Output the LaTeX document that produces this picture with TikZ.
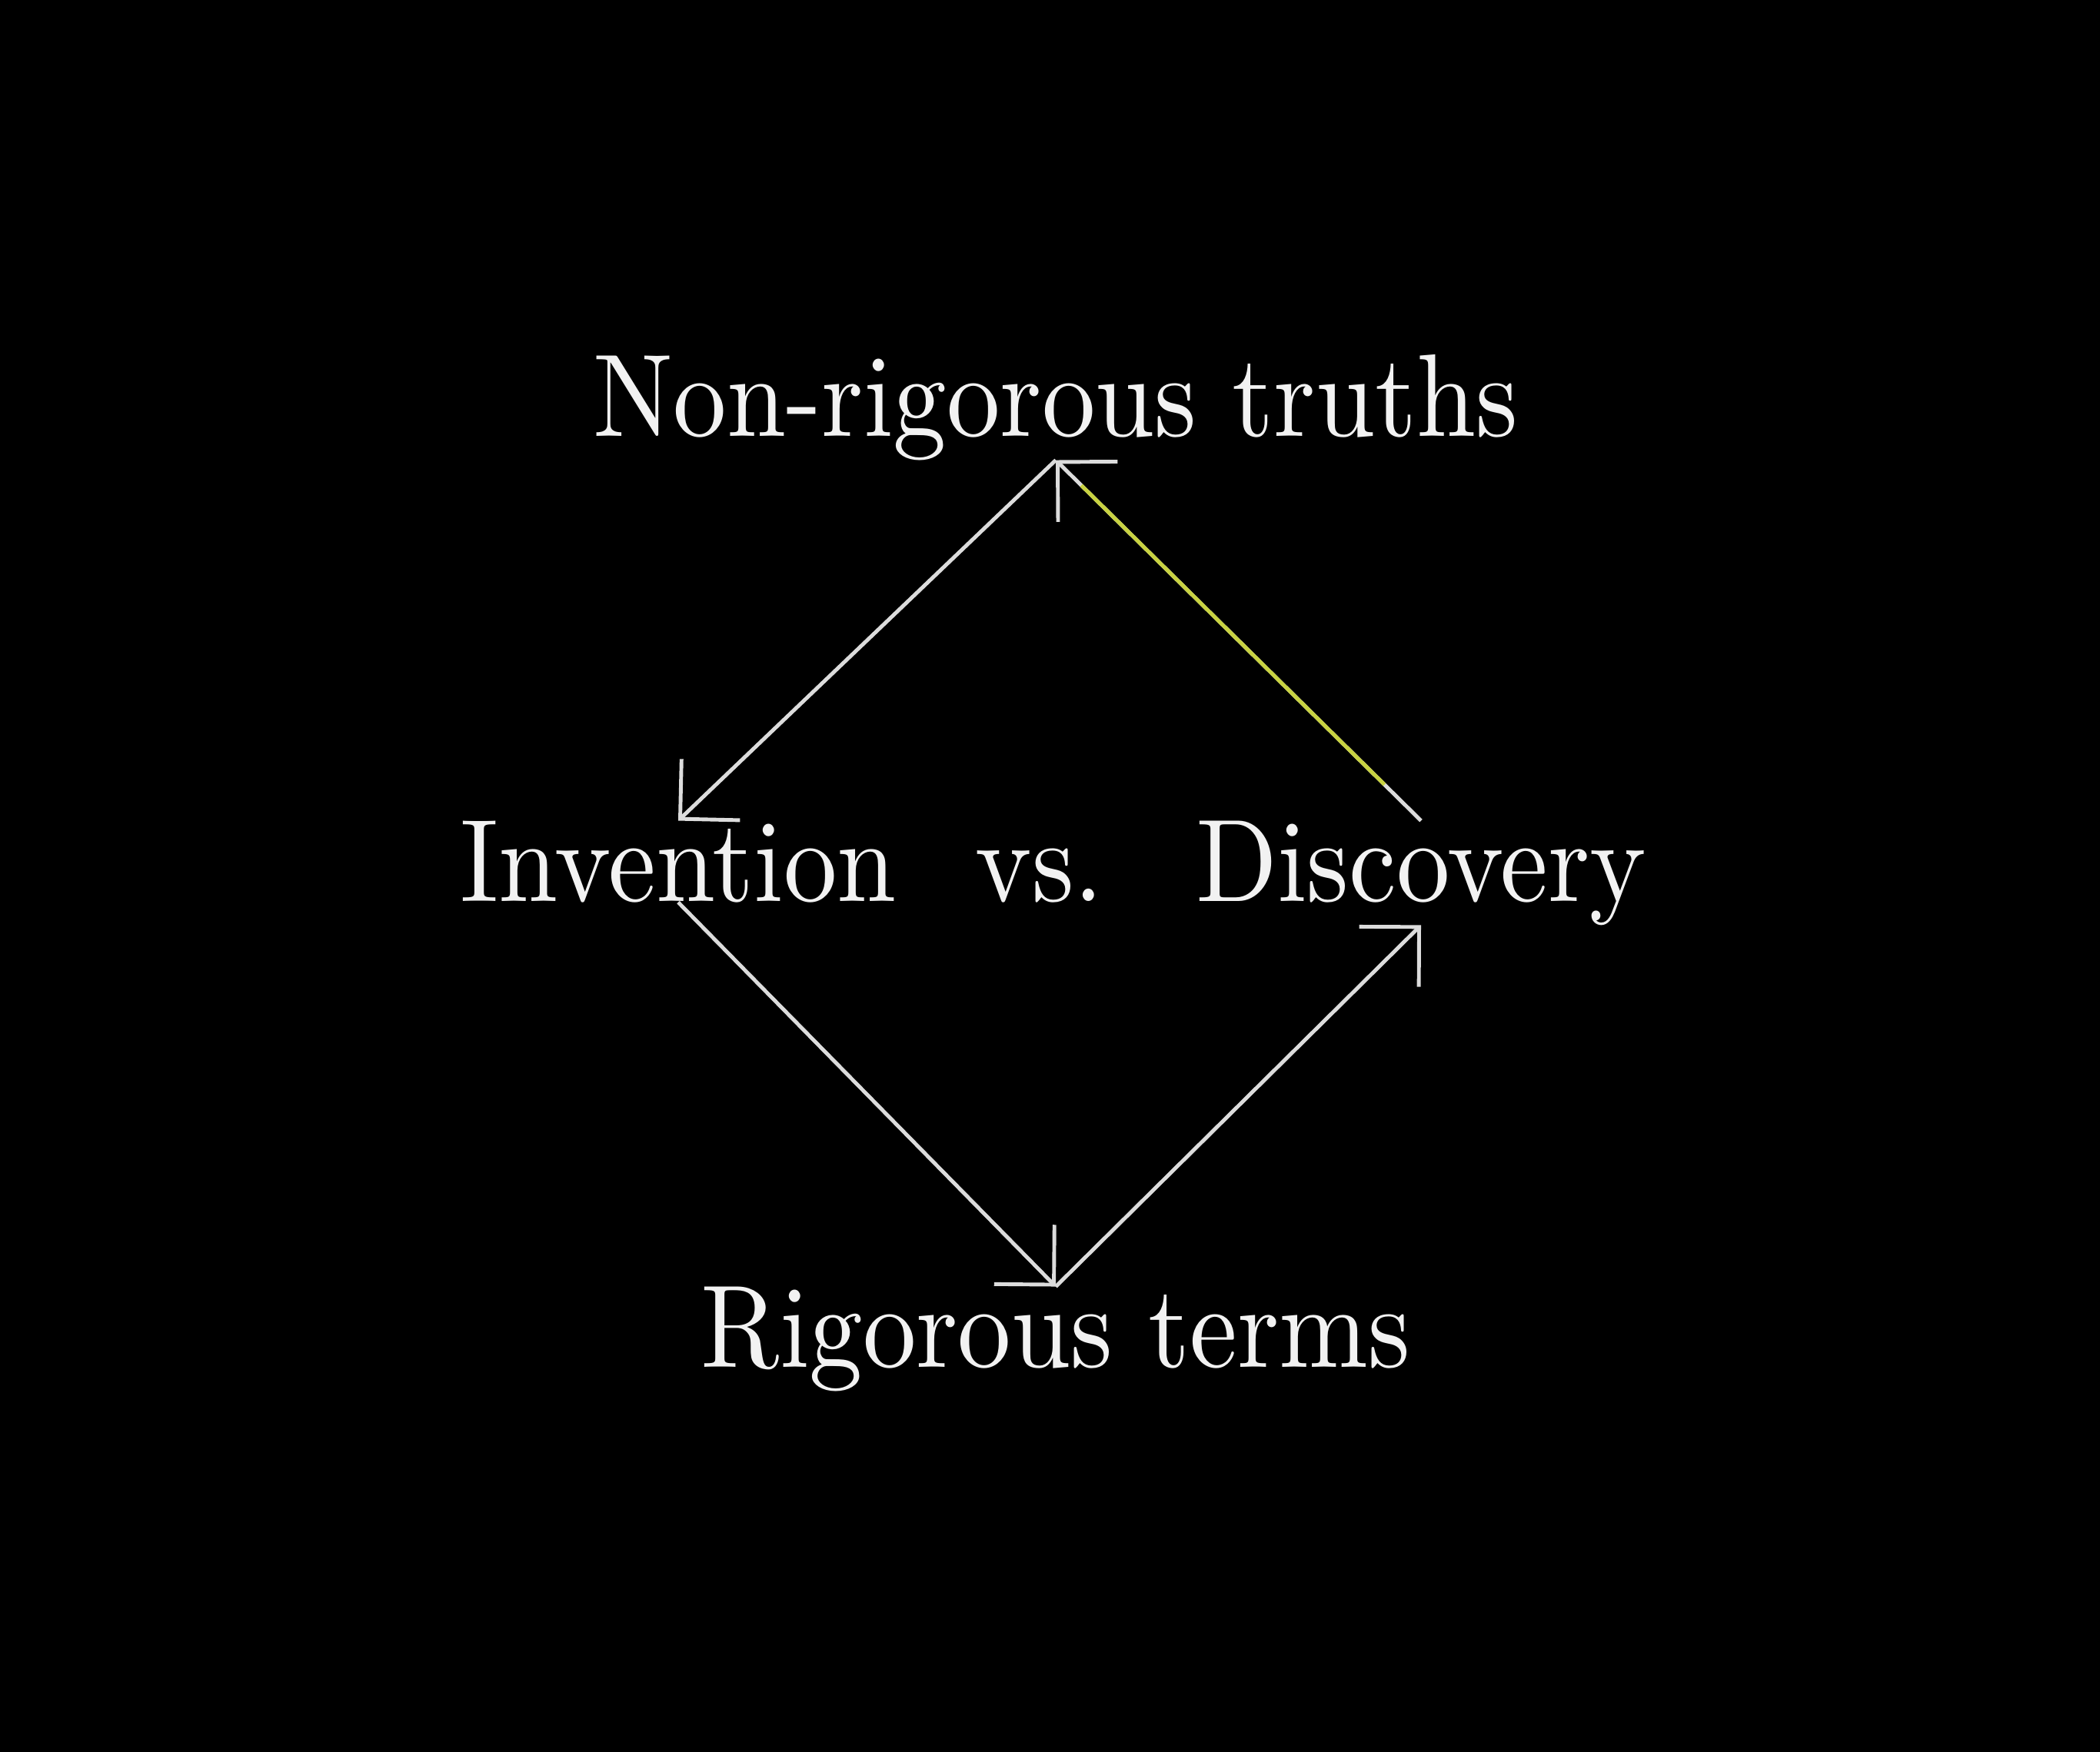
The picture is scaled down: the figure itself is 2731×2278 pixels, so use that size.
\documentclass[tikz,border=0pt]{standalone}
\usepackage{tikz}
\usetikzlibrary{arrows.meta,positioning,calc}
\usepackage{xcolor}
\definecolor{txtwhite}{HTML}{F2F2F2}
\definecolor{linegray}{HTML}{DCDCDC}
\definecolor{flashyellow}{RGB}{200,210,65}

\begin{document}
\begin{tikzpicture}[
  x=0.01cm, y=-0.01cm,
  lbl/.style={text=txtwhite, inner sep=0pt, outer sep=0pt, anchor=base, font=\fontsize{10}{12}\selectfont, xscale=3.95, yscale=4.35},
  arr/.style={draw=linegray, line width=1.4pt, -{Straight Barb[length=5.5mm, width=11mm]}},
  flash/.style={draw=flashyellow, line width=1.4pt},
]
  % Background
  \useasboundingbox (0,0) rectangle (2731,2278);
  \fill[black] (-10,-10) rectangle (2741,2288);

  % Labels
  \node[lbl] (non) at (1373,567) {Non-rigorous truths};
  \node[lbl] (inv) at (882,1172) {Invention};
  \node[lbl] (vs) at (1352,1172) {vs.};
  \node[lbl] (dis) at (1848,1172) {Discovery};
  \node[lbl] (rig) at (1373,1778) {Rigorous terms};

  % Cycle
  \draw[arr] (inv.south) -- (rig.north);
  \draw[arr] (rig.north) -- (dis.south);
  \draw[arr] (dis.north) -- (non.south);
  \draw[arr] (non.south) -- (inv.north);

  % Highlight on the way up
  \draw[flash] ($(dis.north)!0.1!(non.south)$) -- ($(dis.north)!0.93!(non.south)$);
\end{tikzpicture}
\end{document}
